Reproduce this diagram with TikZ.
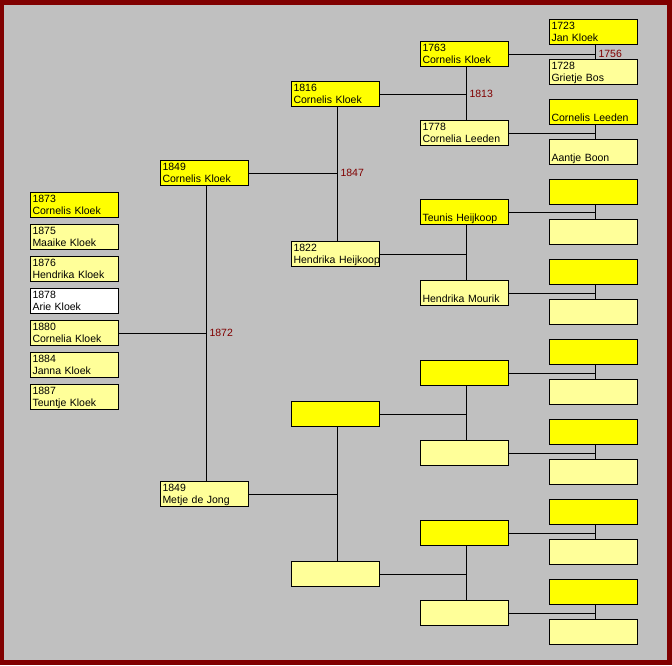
\documentclass[tikz,border=0pt]{standalone}
\usepackage{fontspec}
\setmainfont{Liberation Sans}
\usepackage{tikz}

\definecolor{kader}{RGB}{128,0,0}
\definecolor{grijs}{RGB}{192,192,192}
\definecolor{geel}{RGB}{255,255,0}
\definecolor{lichtgeel}{RGB}{255,255,153}

\begin{document}
\begin{tikzpicture}[x=1pt,y=-1pt,
	box/.style={draw=black, line width=1pt, anchor=north west, outer sep=0pt,
		minimum width=88pt, minimum height=25pt, inner xsep=2pt, inner ysep=0pt,
		text width=84pt, align=left, text height=8pt, text depth=13pt,
		font=\fontsize{10.5}{12}\selectfont},
	man/.style={box, fill=geel},
	vrouw/.style={box, fill=lichtgeel},
	kind/.style={box, fill=white},
	lijn/.style={line width=1pt},
	jaar/.style={anchor=west, inner sep=0pt, xshift=2.5pt, text=kader,
		font=\fontsize{10.5}{12}\selectfont}]
		
		% kader en achtergrond
		\fill[kader] (0,0) rectangle (672,665);
		\fill[grijs] (4,5) rectangle (667,660);
		
		% kinderen
		\node[man]   (k1) at (30.5,192.5) {1873\\Cornelis Kloek};
		\node[vrouw] (k2) at (30.5,224.5) {1875\\Maaike Kloek};
		\node[vrouw] (k3) at (30.5,256.5) {1876\\Hendrika Kloek};
		\node[kind]  (k4) at (30.5,288.5) {1878\\Arie Kloek};
		\node[vrouw] (a1) at (30.5,320.5) {1880\\Cornelia Kloek};
		\node[vrouw] (k6) at (30.5,352.5) {1884\\Janna Kloek};
		\node[vrouw] (k7) at (30.5,384.5) {1887\\Teuntje Kloek};
		
		% ouders
		\node[man]   (a2) at (160.5,160.5) {1849\\Cornelis Kloek};
		\node[vrouw] (a3) at (160.5,481.5) {1849\\Metje de Jong};
		
		% grootouders
		\node[man]   (a4) at (291.5,81.5)  {1816\\Cornelis Kloek};
		\node[vrouw] (a5) at (291.5,241.5) {1822\\\mbox{Hendrika Heijkoop}};
		\node[man]   (a6) at (291.5,401.5) {};
		\node[vrouw] (a7) at (291.5,561.5) {};
		
		% overgrootouders
		\node[man]   (a8)  at (420.5,41.5)  {1763\\Cornelis Kloek};
		\node[vrouw] (a9)  at (420.5,120.5) {1778\\Cornelia Leeden};
		\node[man]   (a10) at (420.5,199.5) {\mbox{}\\Teunis Heijkoop};
		\node[vrouw] (a11) at (420.5,280.5) {\mbox{}\\Hendrika Mourik};
		\node[man]   (a12) at (420.5,360.5) {};
		\node[vrouw] (a13) at (420.5,440.5) {};
		\node[man]   (a14) at (420.5,520.5) {};
		\node[vrouw] (a15) at (420.5,600.5) {};
		
		% betovergrootouders
		\node[man]   (a16) at (549.5,19.5)  {1723\\Jan Kloek};
		\node[vrouw] (a17) at (549.5,59.5)  {1728\\Grietje Bos};
		\node[man]   (a18) at (549.5,99.5)  {\mbox{}\\Cornelis Leeden};
		\node[vrouw] (a19) at (549.5,139.5) {\mbox{}\\Aantje Boon};
		\node[man]   (a20) at (549.5,179.5) {};
		\node[vrouw] (a21) at (549.5,219.5) {};
		\node[man]   (a22) at (549.5,259.5) {};
		\node[vrouw] (a23) at (549.5,299.5) {};
		\node[man]   (a24) at (549.5,339.5) {};
		\node[vrouw] (a25) at (549.5,379.5) {};
		\node[man]   (a26) at (549.5,419.5) {};
		\node[vrouw] (a27) at (549.5,459.5) {};
		\node[man]   (a28) at (549.5,499.5) {};
		\node[vrouw] (a29) at (549.5,539.5) {};
		\node[man]   (a30) at (549.5,579.5) {};
		\node[vrouw] (a31) at (549.5,619.5) {};
		
		% verbindingen
		\draw[lijn] ([xshift=2pt]a2.south) -- ([xshift=2pt]a3.north) (a1.east) -- ([xshift=2pt]a1.east -| a2.south) node[jaar] {1872};
		
		\draw[lijn] ([xshift=2pt]a4.south) -- ([xshift=2pt]a5.north) (a2.east) -- ([xshift=2pt]a2.east -| a4.south) node[jaar] {1847};
		\draw[lijn] ([xshift=2pt]a6.south) -- ([xshift=2pt]a7.north) (a3.east) -- ([xshift=2pt]a3.east -| a6.south);
		
		\draw[lijn] ([xshift=2pt]a8.south) -- ([xshift=2pt]a9.north) (a4.east) -- ([xshift=2pt]a4.east -| a8.south) node[jaar] {1813};
		\draw[lijn] ([xshift=2pt]a10.south) -- ([xshift=2pt]a11.north) (a5.east) -- ([xshift=2pt]a5.east -| a10.south);
		\draw[lijn] ([xshift=2pt]a12.south) -- ([xshift=2pt]a13.north) (a6.east) -- ([xshift=2pt]a6.east -| a12.south);
		\draw[lijn] ([xshift=2pt]a14.south) -- ([xshift=2pt]a15.north) (a7.east) -- ([xshift=2pt]a7.east -| a14.south);
		
		\draw[lijn] ([xshift=2pt]a16.south) -- ([xshift=2pt]a17.north) (a8.east) -- ([xshift=2pt]a8.east -| a16.south) node[jaar] {1756};
		\draw[lijn] ([xshift=2pt]a18.south) -- ([xshift=2pt]a19.north) (a9.east) -- ([xshift=2pt]a9.east -| a18.south);
		\draw[lijn] ([xshift=2pt]a20.south) -- ([xshift=2pt]a21.north) (a10.east) -- ([xshift=2pt]a10.east -| a20.south);
		\draw[lijn] ([xshift=2pt]a22.south) -- ([xshift=2pt]a23.north) (a11.east) -- ([xshift=2pt]a11.east -| a22.south);
		\draw[lijn] ([xshift=2pt]a24.south) -- ([xshift=2pt]a25.north) (a12.east) -- ([xshift=2pt]a12.east -| a24.south);
		\draw[lijn] ([xshift=2pt]a26.south) -- ([xshift=2pt]a27.north) (a13.east) -- ([xshift=2pt]a13.east -| a26.south);
		\draw[lijn] ([xshift=2pt]a28.south) -- ([xshift=2pt]a29.north) (a14.east) -- ([xshift=2pt]a14.east -| a28.south);
		\draw[lijn] ([xshift=2pt]a30.south) -- ([xshift=2pt]a31.north) (a15.east) -- ([xshift=2pt]a15.east -| a30.south);
	\end{tikzpicture}
\end{document}
